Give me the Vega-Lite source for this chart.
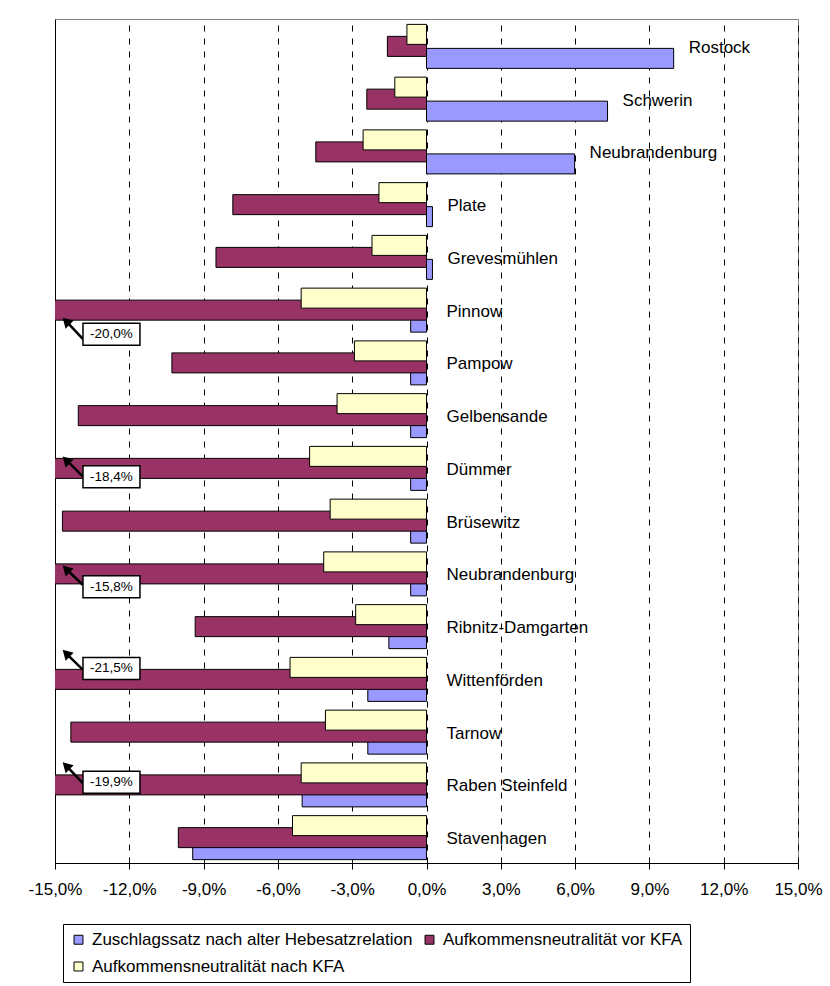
{
  "$schema": "https://vega.github.io/schema/vega-lite/v6.json",
  "autosize": {"type": "none"},
  "padding": {"left": 55, "top": 19, "right": 32, "bottom": 123},
  "width": 743,
  "height": 844,
  "background": "white",
  "config": {
    "view": {"stroke": "#808080", "strokeWidth": 1},
    "locale": {"number": {"decimal": ",", "thousands": ".", "grouping": [3], "currency": ["", " €"], "minus": "-"}},
    "font": "Liberation Sans"
  },
  "data": {
    "values": [
      {"Nr": 1, "Gemeinde": "Rostock", "Reihe": "Zuschlagssatz nach alter Hebesatzrelation", "Wert": 0.0998},
      {"Nr": 1, "Gemeinde": "Rostock", "Reihe": "Aufkommensneutralität vor KFA", "Wert": -0.0158},
      {"Nr": 1, "Gemeinde": "Rostock", "Reihe": "Aufkommensneutralität nach KFA", "Wert": -0.0079},
      {"Nr": 2, "Gemeinde": "Schwerin", "Reihe": "Zuschlagssatz nach alter Hebesatzrelation", "Wert": 0.0731},
      {"Nr": 2, "Gemeinde": "Schwerin", "Reihe": "Aufkommensneutralität vor KFA", "Wert": -0.0241},
      {"Nr": 2, "Gemeinde": "Schwerin", "Reihe": "Aufkommensneutralität nach KFA", "Wert": -0.0128},
      {"Nr": 3, "Gemeinde": "Neubrandenburg", "Reihe": "Zuschlagssatz nach alter Hebesatzrelation", "Wert": 0.0598},
      {"Nr": 3, "Gemeinde": "Neubrandenburg", "Reihe": "Aufkommensneutralität vor KFA", "Wert": -0.0447},
      {"Nr": 3, "Gemeinde": "Neubrandenburg", "Reihe": "Aufkommensneutralität nach KFA", "Wert": -0.0256},
      {"Nr": 4, "Gemeinde": "Plate", "Reihe": "Zuschlagssatz nach alter Hebesatzrelation", "Wert": 0.0024},
      {"Nr": 4, "Gemeinde": "Plate", "Reihe": "Aufkommensneutralität vor KFA", "Wert": -0.0782},
      {"Nr": 4, "Gemeinde": "Plate", "Reihe": "Aufkommensneutralität nach KFA", "Wert": -0.0192},
      {"Nr": 5, "Gemeinde": "Grevesmühlen", "Reihe": "Zuschlagssatz nach alter Hebesatzrelation", "Wert": 0.0024},
      {"Nr": 5, "Gemeinde": "Grevesmühlen", "Reihe": "Aufkommensneutralität vor KFA", "Wert": -0.085},
      {"Nr": 5, "Gemeinde": "Grevesmühlen", "Reihe": "Aufkommensneutralität nach KFA", "Wert": -0.022},
      {"Nr": 6, "Gemeinde": "Pinnow", "Reihe": "Zuschlagssatz nach alter Hebesatzrelation", "Wert": -0.0064},
      {"Nr": 6, "Gemeinde": "Pinnow", "Reihe": "Aufkommensneutralität vor KFA", "Wert": -0.2},
      {"Nr": 6, "Gemeinde": "Pinnow", "Reihe": "Aufkommensneutralität nach KFA", "Wert": -0.0506},
      {"Nr": 7, "Gemeinde": "Pampow", "Reihe": "Zuschlagssatz nach alter Hebesatzrelation", "Wert": -0.0064},
      {"Nr": 7, "Gemeinde": "Pampow", "Reihe": "Aufkommensneutralität vor KFA", "Wert": -0.1028},
      {"Nr": 7, "Gemeinde": "Pampow", "Reihe": "Aufkommensneutralität nach KFA", "Wert": -0.0291},
      {"Nr": 8, "Gemeinde": "Gelbensande", "Reihe": "Zuschlagssatz nach alter Hebesatzrelation", "Wert": -0.0064},
      {"Nr": 8, "Gemeinde": "Gelbensande", "Reihe": "Aufkommensneutralität vor KFA", "Wert": -0.1406},
      {"Nr": 8, "Gemeinde": "Gelbensande", "Reihe": "Aufkommensneutralität nach KFA", "Wert": -0.0361},
      {"Nr": 9, "Gemeinde": "Dümmer", "Reihe": "Zuschlagssatz nach alter Hebesatzrelation", "Wert": -0.0064},
      {"Nr": 9, "Gemeinde": "Dümmer", "Reihe": "Aufkommensneutralität vor KFA", "Wert": -0.184},
      {"Nr": 9, "Gemeinde": "Dümmer", "Reihe": "Aufkommensneutralität nach KFA", "Wert": -0.0472},
      {"Nr": 10, "Gemeinde": "Brüsewitz", "Reihe": "Zuschlagssatz nach alter Hebesatzrelation", "Wert": -0.0064},
      {"Nr": 10, "Gemeinde": "Brüsewitz", "Reihe": "Aufkommensneutralität vor KFA", "Wert": -0.147},
      {"Nr": 10, "Gemeinde": "Brüsewitz", "Reihe": "Aufkommensneutralität nach KFA", "Wert": -0.0389},
      {"Nr": 11, "Gemeinde": "Neubrandenburg", "Reihe": "Zuschlagssatz nach alter Hebesatzrelation", "Wert": -0.0064},
      {"Nr": 11, "Gemeinde": "Neubrandenburg", "Reihe": "Aufkommensneutralität vor KFA", "Wert": -0.158},
      {"Nr": 11, "Gemeinde": "Neubrandenburg", "Reihe": "Aufkommensneutralität nach KFA", "Wert": -0.0415},
      {"Nr": 12, "Gemeinde": "Ribnitz-Damgarten", "Reihe": "Zuschlagssatz nach alter Hebesatzrelation", "Wert": -0.0152},
      {"Nr": 12, "Gemeinde": "Ribnitz-Damgarten", "Reihe": "Aufkommensneutralität vor KFA", "Wert": -0.0934},
      {"Nr": 12, "Gemeinde": "Ribnitz-Damgarten", "Reihe": "Aufkommensneutralität nach KFA", "Wert": -0.0286},
      {"Nr": 13, "Gemeinde": "Wittenförden", "Reihe": "Zuschlagssatz nach alter Hebesatzrelation", "Wert": -0.0237},
      {"Nr": 13, "Gemeinde": "Wittenförden", "Reihe": "Aufkommensneutralität vor KFA", "Wert": -0.215},
      {"Nr": 13, "Gemeinde": "Wittenförden", "Reihe": "Aufkommensneutralität nach KFA", "Wert": -0.0551},
      {"Nr": 14, "Gemeinde": "Tarnow", "Reihe": "Zuschlagssatz nach alter Hebesatzrelation", "Wert": -0.0237},
      {"Nr": 14, "Gemeinde": "Tarnow", "Reihe": "Aufkommensneutralität vor KFA", "Wert": -0.1436},
      {"Nr": 14, "Gemeinde": "Tarnow", "Reihe": "Aufkommensneutralität nach KFA", "Wert": -0.0408},
      {"Nr": 15, "Gemeinde": "Raben Steinfeld", "Reihe": "Zuschlagssatz nach alter Hebesatzrelation", "Wert": -0.0502},
      {"Nr": 15, "Gemeinde": "Raben Steinfeld", "Reihe": "Aufkommensneutralität vor KFA", "Wert": -0.199},
      {"Nr": 15, "Gemeinde": "Raben Steinfeld", "Reihe": "Aufkommensneutralität nach KFA", "Wert": -0.0506},
      {"Nr": 16, "Gemeinde": "Stavenhagen", "Reihe": "Zuschlagssatz nach alter Hebesatzrelation", "Wert": -0.0944},
      {"Nr": 16, "Gemeinde": "Stavenhagen", "Reihe": "Aufkommensneutralität vor KFA", "Wert": -0.1002},
      {"Nr": 16, "Gemeinde": "Stavenhagen", "Reihe": "Aufkommensneutralität nach KFA", "Wert": -0.0541}
    ]
  },
  "encoding": {
    "y": {
      "field": "Nr",
      "type": "ordinal",
      "title": null,
      "scale": {"paddingInner": 0, "paddingOuter": 0},
      "axis": {"labels": false, "ticks": false, "domain": true, "domainColor": "black", "domainWidth": 1, "grid": false, "title": null}
    }
  },
  "layer": [
    {
      "transform": [{"filter": "datum.Reihe == 'Zuschlagssatz nach alter Hebesatzrelation'"}],
      "mark": {"type": "bar", "size": 20, "yOffset": 13, "stroke": "black", "strokeWidth": 1, "opacity": 1},
      "encoding": {
        "x": {
          "field": "Wert",
          "type": "quantitative",
          "title": null,
          "scale": {"domain": [-0.15, 0.15], "nice": false, "zero": false},
          "axis": {
            "title": null,
            "values": [-0.15, -0.12, -0.09, -0.06, -0.03, 0, 0.03, 0.06, 0.09, 0.12, 0.15],
            "format": ".1%",
            "grid": true,
            "gridColor": "black",
            "gridDash": [6, 7],
            "gridWidth": 1,
            "gridOpacity": 1,
            "domainColor": "black",
            "domainWidth": 1,
            "tickColor": "black",
            "tickSize": 6,
            "labelFont": "Liberation Sans",
            "labelFontSize": 17,
            "labelColor": "black",
            "labelPadding": 12,
            "labelFlush": false,
            "labelOverlap": false
          }
        },
        "color": {
          "field": "Reihe",
          "type": "nominal",
          "scale": {
            "domain": ["Zuschlagssatz nach alter Hebesatzrelation", "Aufkommensneutralität vor KFA", "Aufkommensneutralität nach KFA"],
            "range": ["#9999FF", "#993366", "#FFFFCC"]
          },
          "legend": {
            "orient": "none",
            "legendX": 8,
            "legendY": 905,
            "direction": "horizontal",
            "columns": 2,
            "title": null,
            "strokeColor": "black",
            "fillColor": "white",
            "padding": 7,
            "symbolType": "square",
            "symbolSize": 80,
            "symbolStrokeColor": "black",
            "symbolStrokeWidth": 1,
            "symbolOpacity": 1,
            "labelFont": "Liberation Sans",
            "labelFontSize": 17,
            "labelColor": "black",
            "labelLimit": 600,
            "labelOffset": 5,
            "rowPadding": 9,
            "columnPadding": 8
          }
        }
      }
    },
    {
      "transform": [{"filter": "datum.Reihe == 'Aufkommensneutralität vor KFA'"}],
      "mark": {"type": "bar", "size": 20, "yOffset": 1, "stroke": "black", "strokeWidth": 1, "opacity": 1, "clip": true},
      "encoding": {
        "x": {"field": "Wert", "type": "quantitative", "title": null},
        "color": {"field": "Reihe", "type": "nominal"}
      }
    },
    {
      "transform": [{"filter": "datum.Reihe == 'Aufkommensneutralität nach KFA'"}],
      "mark": {"type": "bar", "size": 20, "yOffset": -11, "stroke": "black", "strokeWidth": 1, "opacity": 1},
      "encoding": {
        "x": {"field": "Wert", "type": "quantitative", "title": null},
        "color": {"field": "Reihe", "type": "nominal"}
      }
    },
    {
      "transform": [{"filter": "datum.Reihe == 'Zuschlagssatz nach alter Hebesatzrelation' && datum.Wert > 0"}],
      "mark": {"type": "text", "align": "left", "baseline": "middle", "dx": 15, "dy": 2.5, "font": "Liberation Sans", "fontSize": 17, "color": "black"},
      "encoding": {
        "x": {"field": "Wert", "type": "quantitative", "title": null},
        "text": {"field": "Gemeinde", "type": "nominal"}
      }
    },
    {
      "transform": [{"filter": "datum.Reihe == 'Zuschlagssatz nach alter Hebesatzrelation' && datum.Wert <= 0"}],
      "mark": {"type": "text", "align": "left", "baseline": "middle", "dx": 20, "dy": 2.5, "font": "Liberation Sans", "fontSize": 17, "color": "black"},
      "encoding": {
        "x": {"datum": 0, "type": "quantitative", "title": null},
        "text": {"field": "Gemeinde", "type": "nominal"}
      }
    },
    {
      "transform": [{"filter": "datum.Nr == 6 && datum.Reihe == 'Aufkommensneutralität vor KFA'"}],
      "layer": [
        {"mark": {"type": "rule", "color": "black", "strokeWidth": 2.5, "yOffset": 30, "y2Offset": 12},
         "encoding": {"x": {"datum": -0.1387, "type": "quantitative", "title": null}, "x2": {"datum": -0.1455}, "y2": {"field": "Nr"}}},
        {"mark": {"type": "point", "shape": "triangle-up", "angle": -45, "filled": true, "color": "black", "size": 130, "opacity": 1, "yOffset": 12},
         "encoding": {"x": {"datum": -0.1455, "type": "quantitative", "title": null}}},
        {"mark": {"type": "bar", "fill": "white", "stroke": "black", "strokeWidth": 1.5, "size": 22, "yOffset": 25},
         "encoding": {"x": {"datum": -0.1387, "type": "quantitative", "title": null}, "x2": {"datum": -0.1157}}},
        {"mark": {"type": "text", "font": "Liberation Sans", "fontSize": 13.5, "baseline": "middle", "align": "center", "color": "black", "yOffset": 25},
         "encoding": {"x": {"datum": -0.1272, "type": "quantitative", "title": null}, "text": {"field": "Wert", "type": "quantitative", "format": ".1%"}}}
      ]
    },
    {
      "transform": [{"filter": "datum.Nr == 9 && datum.Reihe == 'Aufkommensneutralität vor KFA'"}],
      "layer": [
        {"mark": {"type": "rule", "color": "black", "strokeWidth": 2.5, "yOffset": 9.3, "y2Offset": -7.4},
         "encoding": {"x": {"datum": -0.1387, "type": "quantitative", "title": null}, "x2": {"datum": -0.1455}, "y2": {"field": "Nr"}}},
        {"mark": {"type": "point", "shape": "triangle-up", "angle": -45, "filled": true, "color": "black", "size": 130, "opacity": 1, "yOffset": -7.4},
         "encoding": {"x": {"datum": -0.1455, "type": "quantitative", "title": null}}},
        {"mark": {"type": "bar", "fill": "white", "stroke": "black", "strokeWidth": 1.5, "size": 22, "yOffset": 9.3},
         "encoding": {"x": {"datum": -0.1387, "type": "quantitative", "title": null}, "x2": {"datum": -0.1157}}},
        {"mark": {"type": "text", "font": "Liberation Sans", "fontSize": 13.5, "baseline": "middle", "align": "center", "color": "black", "yOffset": 9.3},
         "encoding": {"x": {"datum": -0.1272, "type": "quantitative", "title": null}, "text": {"field": "Wert", "type": "quantitative", "format": ".1%"}}}
      ]
    },
    {
      "transform": [{"filter": "datum.Nr == 11 && datum.Reihe == 'Aufkommensneutralität vor KFA'"}],
      "layer": [
        {"mark": {"type": "rule", "color": "black", "strokeWidth": 2.5, "yOffset": 12.1, "y2Offset": -3.9},
         "encoding": {"x": {"datum": -0.1387, "type": "quantitative", "title": null}, "x2": {"datum": -0.1455}, "y2": {"field": "Nr"}}},
        {"mark": {"type": "point", "shape": "triangle-up", "angle": -45, "filled": true, "color": "black", "size": 130, "opacity": 1, "yOffset": -3.9},
         "encoding": {"x": {"datum": -0.1455, "type": "quantitative", "title": null}}},
        {"mark": {"type": "bar", "fill": "white", "stroke": "black", "strokeWidth": 1.5, "size": 22, "yOffset": 13.8},
         "encoding": {"x": {"datum": -0.1387, "type": "quantitative", "title": null}, "x2": {"datum": -0.1157}}},
        {"mark": {"type": "text", "font": "Liberation Sans", "fontSize": 13.5, "baseline": "middle", "align": "center", "color": "black", "yOffset": 13.8},
         "encoding": {"x": {"datum": -0.1272, "type": "quantitative", "title": null}, "text": {"field": "Wert", "type": "quantitative", "format": ".1%"}}}
      ]
    },
    {
      "transform": [{"filter": "datum.Nr == 13 && datum.Reihe == 'Aufkommensneutralität vor KFA'"}],
      "layer": [
        {"mark": {"type": "rule", "color": "black", "strokeWidth": 2.5, "yOffset": -8.4, "y2Offset": -25.1},
         "encoding": {"x": {"datum": -0.1387, "type": "quantitative", "title": null}, "x2": {"datum": -0.1455}, "y2": {"field": "Nr"}}},
        {"mark": {"type": "point", "shape": "triangle-up", "angle": -45, "filled": true, "color": "black", "size": 130, "opacity": 1, "yOffset": -25.1},
         "encoding": {"x": {"datum": -0.1455, "type": "quantitative", "title": null}}},
        {"mark": {"type": "bar", "fill": "white", "stroke": "black", "strokeWidth": 1.5, "size": 22, "yOffset": -10},
         "encoding": {"x": {"datum": -0.1387, "type": "quantitative", "title": null}, "x2": {"datum": -0.1157}}},
        {"mark": {"type": "text", "font": "Liberation Sans", "fontSize": 13.5, "baseline": "middle", "align": "center", "color": "black", "yOffset": -10},
         "encoding": {"x": {"datum": -0.1272, "type": "quantitative", "title": null}, "text": {"field": "Wert", "type": "quantitative", "format": ".1%"}}}
      ]
    },
    {
      "transform": [{"filter": "datum.Nr == 15 && datum.Reihe == 'Aufkommensneutralität vor KFA'"}],
      "layer": [
        {"mark": {"type": "rule", "color": "black", "strokeWidth": 2.5, "yOffset": -0.6, "y2Offset": -18.2},
         "encoding": {"x": {"datum": -0.1387, "type": "quantitative", "title": null}, "x2": {"datum": -0.1455}, "y2": {"field": "Nr"}}},
        {"mark": {"type": "point", "shape": "triangle-up", "angle": -45, "filled": true, "color": "black", "size": 130, "opacity": 1, "yOffset": -18.2},
         "encoding": {"x": {"datum": -0.1455, "type": "quantitative", "title": null}}},
        {"mark": {"type": "bar", "fill": "white", "stroke": "black", "strokeWidth": 1.5, "size": 22, "yOffset": -1.6},
         "encoding": {"x": {"datum": -0.1387, "type": "quantitative", "title": null}, "x2": {"datum": -0.1157}}},
        {"mark": {"type": "text", "font": "Liberation Sans", "fontSize": 13.5, "baseline": "middle", "align": "center", "color": "black", "yOffset": -1.6},
         "encoding": {"x": {"datum": -0.1272, "type": "quantitative", "title": null}, "text": {"field": "Wert", "type": "quantitative", "format": ".1%"}}}
      ]
    }
  ]
}
